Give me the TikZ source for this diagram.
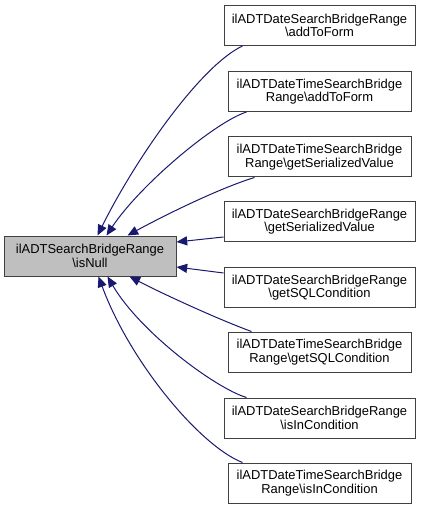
\documentclass[tikz,border=0pt]{standalone}
\usepackage{fontspec}
\setmainfont{Liberation Sans}
\usetikzlibrary{arrows.meta,calc}
\definecolor{edgeblue}{HTML}{191970}
\definecolor{nodegray}{HTML}{BFBFBF}
\definecolor{boxline}{HTML}{404040}
\tikzset{
  box/.style={draw=boxline, line width=0.75pt, inner sep=0pt, align=center,
    minimum height=40*0.75pt, font=\fontsize{9.7}{10}\selectfont},
  wbox/.style={box, minimum width=191*0.75pt},
  nbox/.style={box, minimum width=183*0.75pt},
  edge/.style={draw=edgeblue, line width=0.75pt,
    -{Triangle[length=8pt,width=6.8pt,fill=edgeblue]}}
}
\begin{document}
\begin{tikzpicture}[x=0.75pt,y=-0.75pt]
\useasboundingbox (0,0) rectangle (428,509);
\node[box, fill=nodegray, minimum width=172*0.75pt] (l) at (90,256)
  {ilADTSearchBridgeRange\\\textbackslash isNull};
\node[wbox] (r1) at (319.5,25.5) {ilADTDateSearchBridgeRange\\\textbackslash addToForm};
\node[nbox] (r2) at (319.5,91.5) {ilADTDateTimeSearchBridge\\Range\textbackslash addToForm};
\node[nbox] (r3) at (319.5,157) {ilADTDateTimeSearchBridge\\Range\textbackslash getSerializedValue};
\node[wbox] (r4) at (319.5,221.5) {ilADTDateSearchBridgeRange\\\textbackslash getSerializedValue};
\node[wbox] (r5) at (319.5,287.5) {ilADTDateSearchBridgeRange\\\textbackslash getSQLCondition};
\node[nbox] (r6) at (319.5,352) {ilADTDateTimeSearchBridge\\Range\textbackslash getSQLCondition};
\node[wbox] (r7) at (319.5,418) {ilADTDateSearchBridgeRange\\\textbackslash isInCondition};
\node[nbox] (r8) at (319.5,483) {ilADTDateTimeSearchBridge\\Range\textbackslash isInCondition};
% top edges
\draw[edge] ($(r1.south west)+(19,0)$) .. controls (200,66) and (135,160) .. ($(l.north west)+(94,0)$);
\draw[edge] ($(r2.south west)+(19,0)$) .. controls (215,122) and (140,185) .. ($(l.north west)+(103,0)$);
\draw[edge] ($(r3.south west)+(27,0)$) .. controls (220,188) and (165,215) .. ($(l.north west)+(124,0)$);
% side edges
\draw[edge] ($(r4.west)+(0,15.5)$) -- ($(l.east)+(0,-14)$);
\draw[edge] ($(r5.west)+(0,-14.5)$) -- ($(l.east)+(0,11)$);
% bottom edges
\draw[edge] ($(r6.north west)+(24,0)$) .. controls (220,320) and (165,295) .. ($(l.south west)+(126,0)$);
\draw[edge] ($(r7.north west)+(23,0)$) .. controls (215,388) and (140,332) .. ($(l.south west)+(104,0)$);
\draw[edge] ($(r8.north west)+(15,0)$) .. controls (200,446) and (130,362) .. ($(l.south west)+(95,0)$);
\end{tikzpicture}
\end{document}
